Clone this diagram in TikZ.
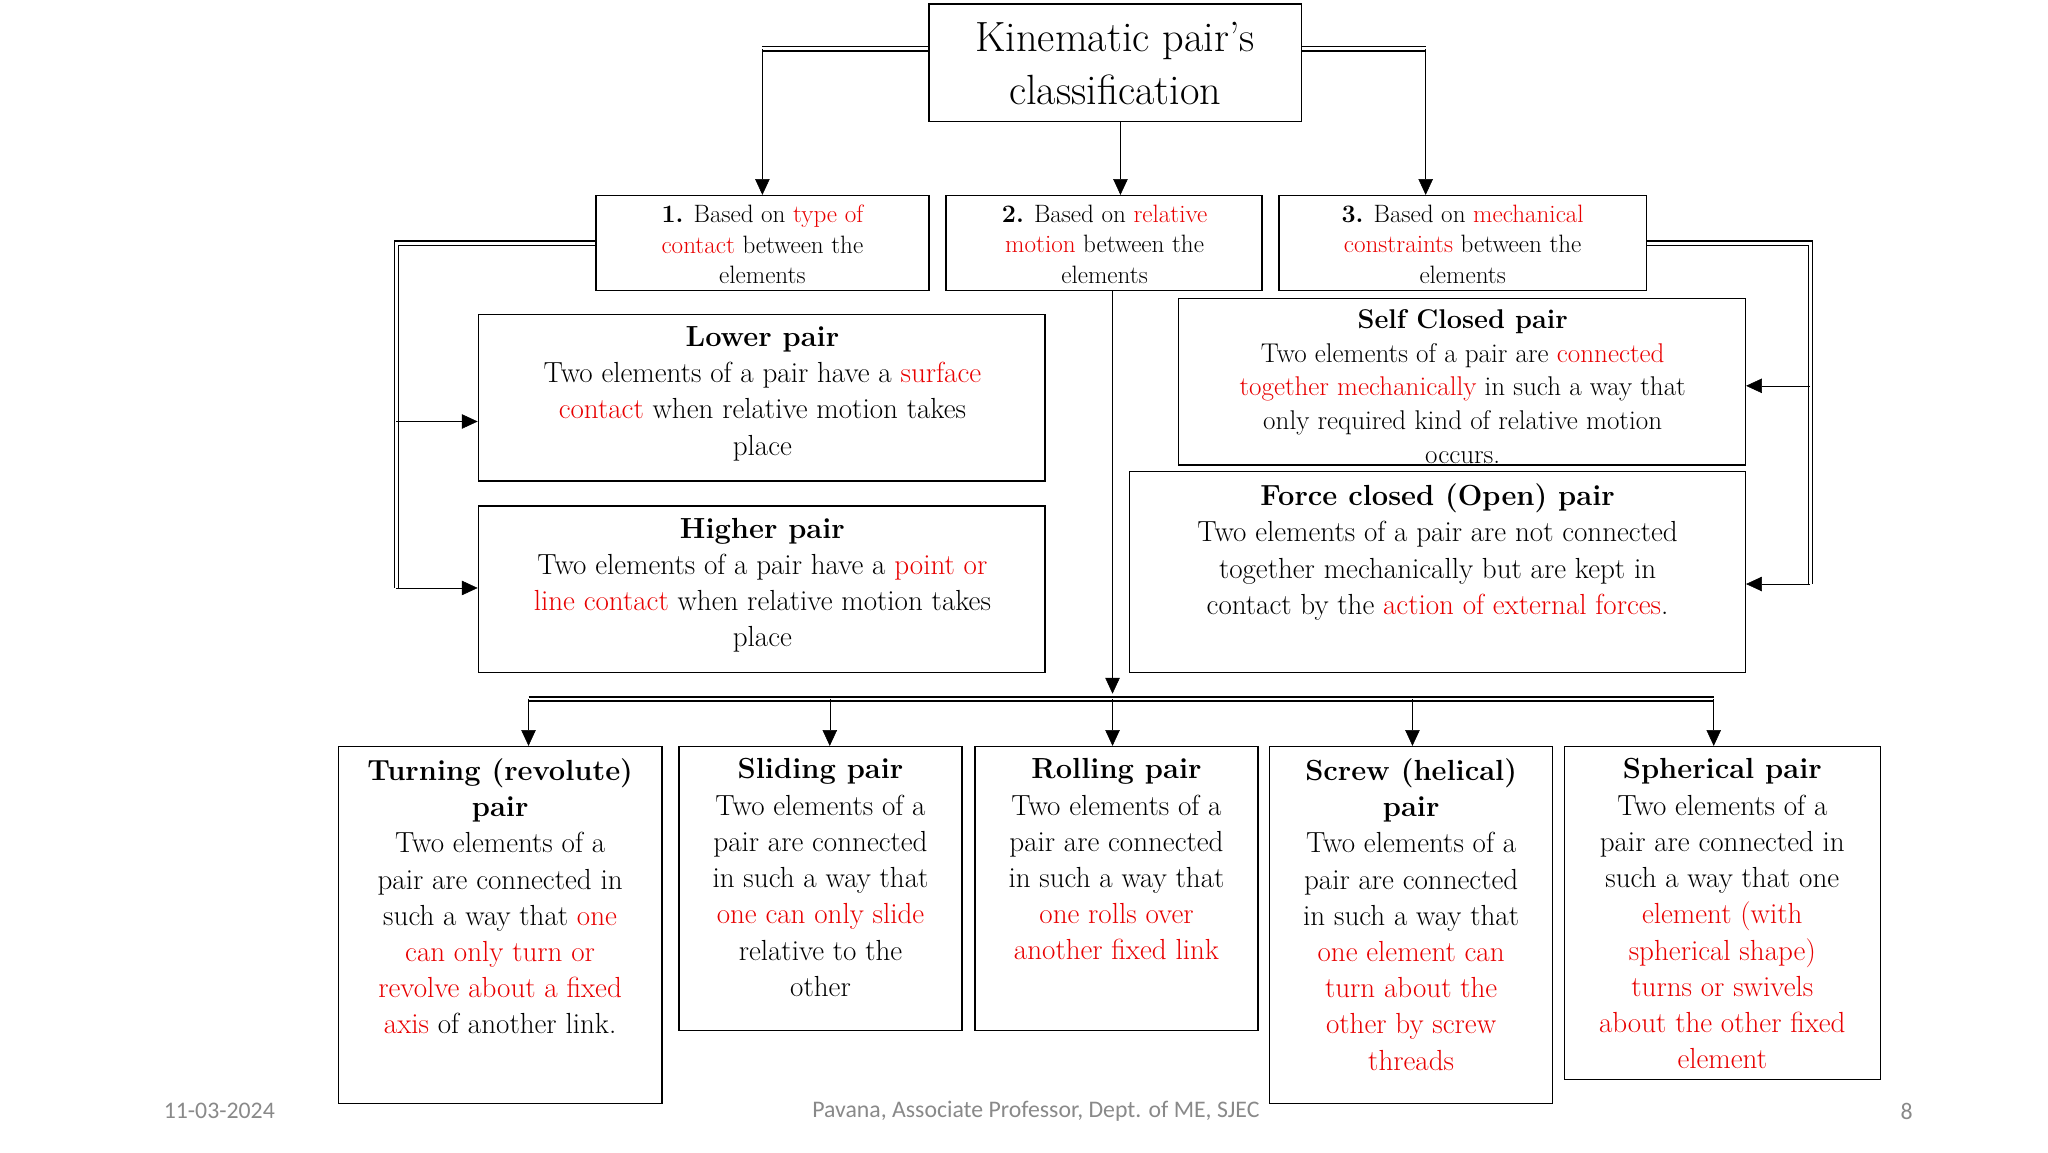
\documentclass[tikz,border=0pt]{standalone}
\usepackage{fontspec}
\newfontfamily\foot{Carlito}
\usetikzlibrary{arrows.meta}
\definecolor{rd}{RGB}{232,0,0}
\definecolor{ft}{RGB}{137,137,137}
\newcommand{\R}[1]{\textcolor{rd}{#1}}
\begin{document}
\begin{tikzpicture}[x=1pt,y=-1pt,
 box/.style={draw,line width=1pt,inner sep=0},
 txt/.style={anchor=north,inner sep=0,align=center,font=\fontsize{22}{27.4}\selectfont},
 stxt/.style={anchor=north,inner sep=0,align=center,font=\fontsize{19}{23}\selectfont},
 dl/.style={double,line width=0.9pt,double distance=2.2pt},
 ar/.style={-{Triangle[length=12pt,width=11pt]}}]
\path[use as bounding box] (0,0) rectangle (1550,872);
\newcommand{\bx}[5]{\node[box,minimum width=#4-#2,minimum height=#5-#3] (#1) at ({(#2+#4)/2},{(#3+#5)/2}) {};}
\bx{T}{703}{3}{985}{92}
\node[inner sep=0,align=center,font=\fontsize{32}{40}\selectfont] (Tt) at (844,48) {Kinematic pair’s\\classification};
\bx{A}{451}{148}{703}{220}
\bx{B}{716}{148}{955}{220}
\bx{C}{968}{148}{1246}{220}
\node[stxt] (At) at (577,155) {\textbf{1.} Based on \R{type of}\\\R{contact} between the\\elements};
\node[stxt] (Bt) at (836,155) {\textbf{2.} Based on \R{relative}\\\R{motion} between the\\elements};
\node[stxt] (Ct) at (1107,155) {\textbf{3.} Based on \R{mechanical}\\\R{constraints} between the\\elements};
\bx{L}{362}{238}{791}{364}
\bx{H}{362}{383}{791}{509}
\bx{S}{892}{226}{1321}{352}
\bx{F}{855}{357}{1321}{509}
\node[txt] (Lt) at (577,247) {\textbf{Lower pair}\\Two elements of a pair have a \R{surface}\\\R{contact} when relative motion takes\\place};
\node[txt] (Ht) at (577,392) {\textbf{Higher pair}\\Two elements of a pair have a \R{point or}\\\R{line contact} when relative motion takes\\place};
\node[stxt,font=\fontsize{20.5}{25.5}\selectfont] (St) at (1107,234) {\textbf{Self Closed pair}\\Two elements of a pair are \R{connected}\\\R{together mechanically} in such a way that\\only required kind of relative motion\\occurs.};
\node[txt] (Ft) at (1088,366) {\textbf{Force closed (Open) pair}\\Two elements of a pair are not connected\\together mechanically but are kept in\\contact by the \R{action of external forces}.};
\bx{P1}{256}{565}{501}{835}
\bx{P2}{514}{565}{728}{780}
\bx{P3}{738}{565}{952}{780}
\bx{P4}{961}{565}{1175}{835}
\bx{P5}{1184}{565}{1423}{817}
\node[txt] (P1t) at (378.5,574) {\textbf{Turning (revolute)}\\\textbf{pair}\\Two elements of a\\pair are connected in\\such a way that \R{one}\\\R{can only turn or}\\\R{revolve about a fixed}\\\R{axis} of another link.};
\node[txt] (P2t) at (621,574) {\textbf{Sliding pair}\\Two elements of a\\pair are connected\\in such a way that\\\R{one can only slide}\\relative to the\\other};
\node[txt] (P3t) at (845,574) {\textbf{Rolling pair}\\Two elements of a\\pair are connected\\in such a way that\\\R{one rolls over}\\\R{another fixed link}};
\node[txt] (P4t) at (1068,574) {\textbf{Screw (helical)}\\\textbf{pair}\\Two elements of a\\pair are connected\\in such a way that\\\R{one element can}\\\R{turn about the}\\\R{other by screw}\\\R{threads}};
\node[txt] (P5t) at (1303.5,574) {\textbf{Spherical pair}\\Two elements of a\\pair are connected in\\such a way that one\\\R{element (with}\\\R{spherical shape)}\\\R{turns or swivels}\\\R{about the other fixed}\\\R{element}};
\node[font=\foot\fontsize{18}{20}\selectfont,text=ft] (d) at (166,841) {11-03-2024};
\node[font=\foot\fontsize{18}{20}\selectfont,text=ft] (c) at (784,841) {Pavana, Associate Professor, Dept. of ME, SJEC};
\node[font=\foot\fontsize{18}{20}\selectfont,text=ft] (n) at (1443,841) {8};
% connectors
\coordinate (j1) at (577,37); \coordinate (j2) at (1079,37);
\draw[dl] (T.west|-j1) -- (j1); \draw[ar] (j1) -- (A.north-|j1);
\draw[dl] (T.east|-j2) -- (j2); \draw[ar] (j2) -- (C.north-|j2);
\draw[ar] (T.south-|848,0) -- (B.north-|848,0);
\coordinate (k1) at (300,184); \coordinate (k2) at (300,445); \coordinate (k3) at (300,319);
\draw[dl] (A.west|-k1) -- (k1) -- (k2);
\draw[ar] (k2) -- (H.west|-k2); \draw[ar] (k3) -- (L.west|-k3);
\coordinate (m1) at (1370,184); \coordinate (m2) at (1370,442); \coordinate (m3) at (1370,292);
\draw[dl] (C.east|-m1) -- (m1) -- (m2);
\draw[ar] (m2) -- (F.east|-m2); \draw[ar] (m3) -- (S.east|-m3);
\coordinate (b0) at (842,525);
\draw[ar] (B.south-|842,0) -- (b0);
\coordinate (h1) at (400,529); \coordinate (h5) at (1297,529);
\draw[dl] (h1) -- (h5);
\foreach \p/\x in {P1/400,P2/628,P3/842,P4/1069,P5/1297}
  \draw[ar] (\x,529) -- (\p.north-|\x,0);
\end{tikzpicture}
\end{document}
